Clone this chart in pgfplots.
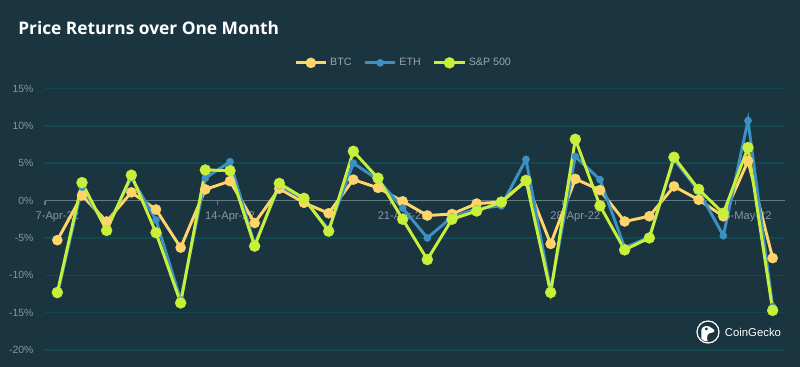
\documentclass[border=0pt]{standalone}
\usepackage{pgfplots}
\pgfplotsset{compat=1.18}
\usepackage{fontspec}
\setmainfont{Liberation Sans}
\newfontfamily\titlefont{Open Sans}
\definecolor{bgc}{HTML}{1A3540}
\definecolor{gridc}{HTML}{0D4B50}
\definecolor{zeroc}{HTML}{627C84}
\definecolor{tickc}{HTML}{8797A0}
\definecolor{legc}{HTML}{9AA6AB}
\definecolor{btc}{HTML}{FFD56B}
\definecolor{eth}{HTML}{3C91C2}
\definecolor{spc}{HTML}{C8F03A}
\pagecolor{bgc}

\pgfplotstableread{
idx btc eth sp
0 -5.3 -12.6 -12.3
1 0.7 1.8 2.4
2 -2.8 -3.8 -4.0
3 1.1 3.1 3.4
4 -1.2 -2.6 -4.3
5 -6.3 -13.3 -13.7
6 1.5 3.0 4.1
7 2.6 5.2 4.0
8 -3.0 -5.9 -6.1
9 1.6 2.0 2.3
10 -0.3 0.2 0.3
11 -1.7 -3.9 -4.1
12 2.8 5.0 6.6
13 1.7 2.8 3.0
14 -0.1 -1.0 -2.5
15 -2.0 -5.0 -7.9
16 -1.8 -2.2 -2.5
17 -0.4 -1.1 -1.4
18 -0.2 -0.7 -0.2
19 2.6 5.5 2.7
20 -5.8 -12.0 -12.3
21 2.9 5.9 8.2
22 1.4 2.8 -0.7
23 -2.8 -6.3 -6.6
24 -2.1 -4.9 -5.0
25 1.9 5.5 5.8
26 0.1 1.3 1.5
27 -2.1 -4.7 -1.7
28 5.3 10.7 7.1
29 -7.7 -14.2 -14.7
}\datatable

\begin{document}
\begin{tikzpicture}
\path (0,0) rectangle (600pt,275.25pt);
\begin{axis}[
  set layers,
  at={(33.75pt,12.75pt)}, anchor=south west,
  scale only axis, width=555pt, height=196.125pt,
  xmin=-0.5, xmax=29.5, ymin=-20, ymax=15,
  enlargelimits=false, clip=false,
  axis x line=middle, axis y line=left,
  hide obscured x ticks=false, hide obscured y ticks=false,
  x axis line style={draw=zeroc, line width=1.1pt, -},
  y axis line style={draw=none},
  xtick={0,7,14,21,28},
  xticklabels={7-Apr-22,14-Apr-22,21-Apr-22,28-Apr-22,5-May-22},
  major x tick style={draw=none},
  extra x ticks={-0.5,6.5,13.5,20.5,27.5},
  extra x tick labels={},
  extra x tick style={tick align=outside, major tick length=3pt, major x tick style={draw=zeroc, line width=0.8pt}},
  ytick={-20,-15,-10,-5,0,5,10,15},
  yticklabels={-20\%,-15\%,-10\%,-5\%,0\%,5\%,10\%,15\%},
  ytick style={draw=none},
  ymajorgrids,
  grid style={draw=gridc, line width=1.1pt},
  /pgf/number format/assume math mode=true,
  xticklabel style={text=tickc, font=\fontsize{8.4}{10}\selectfont, yshift=-2.5pt},
  yticklabel style={text=tickc, font=\fontsize{7.8}{9}\selectfont, xshift=-3pt},
  legend style={at={(0.485,1.098)}, anchor=center, draw=none, fill=none,
    text=legc, font=\fontsize{8}{9}\selectfont,
    /tikz/every even column/.append style={column sep=7pt}},
  legend columns=-1,
  legend image code/.code={\draw[mark repeat=2,mark phase=2] plot coordinates {(0cm,0cm) (0.4cm,0cm) (0.8cm,0cm)};},
]
\addplot[color=btc, line width=2.2pt, mark=*, mark size=3.8pt, mark options={line width=0.3pt}] table[x=idx,y=btc]{\datatable};
\addlegendentry{BTC}
\addplot[color=eth, line width=2.2pt, mark=*, mark size=2.7pt, mark options={line width=0.3pt}] table[x=idx,y=eth]{\datatable};
\addlegendentry{ETH}
\addplot[color=spc, line width=2.2pt, mark=*, mark size=4.1pt, mark options={line width=0.3pt}] table[x=idx,y=sp]{\datatable};
\addlegendentry{S\&P 500}
\end{axis}
\node[anchor=base west, inner sep=0pt, text=white, font=\titlefont\bfseries\fontsize{13}{15}\selectfont] at (13.5pt,249pt) {Price Returns over One Month};
\begin{scope}[shift={(531pt,26.25pt)}]
  \draw[white, line width=0.9pt] (0,0) circle (8.25pt);
  \begin{scope}
    \clip (0,0) circle (7.2pt);
    \fill[white] (-5pt,-8pt) -- (-5pt,1.5pt) .. controls (-4.5pt,5pt) and (0.5pt,5.5pt) .. (3pt,2.8pt) .. controls (5.5pt,1.5pt) and (5.5pt,-0.2pt) .. (2.5pt,-0.6pt) .. controls (-0.5pt,-1pt) and (-1.5pt,-3pt) .. (0pt,-8pt) -- cycle;
  \end{scope}
  \fill[bgc] (-1.2pt,2.3pt) circle (1.2pt);
\end{scope}
\node[anchor=west, inner sep=0pt, text=white, font=\fontsize{8.5}{10}\selectfont] at (543.5pt,26.25pt) {CoinGecko};
\end{tikzpicture}
\end{document}
